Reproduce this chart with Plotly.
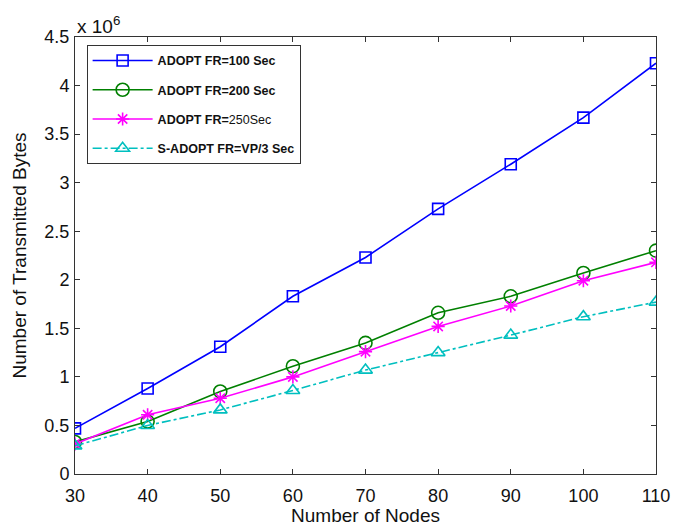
import plotly.graph_objects as go

nodes = [30, 40, 50, 60, 70, 80, 90, 100, 110]
fr100 = [0.47, 0.88, 1.31, 1.83, 2.23, 2.73, 3.19, 3.67, 4.23]
fr200 = [0.33, 0.54, 0.85, 1.11, 1.35, 1.66, 1.83, 2.07, 2.30]
fr250 = [0.31, 0.61, 0.78, 1.00, 1.26, 1.52, 1.73, 1.99, 2.18]
sadopt = [0.29, 0.50, 0.66, 0.86, 1.07, 1.25, 1.43, 1.62, 1.77]

legend_labels = ["<b>ADOPT FR=100 Sec</b>", "<b>ADOPT FR=200 Sec</b>",
                 "<b>ADOPT FR=</b>250Sec", "<b>S-ADOPT FR=VP/3 Sec</b>"]
series = [fr100, fr200, fr250, sadopt]
colors = ["#0000FF", "#008000", "#FF00FF", "#00BFBF"]
symbols = ["square-open", "circle-open", "asterisk-open", "triangle-up-open"]
dashes = ["solid", "solid", "solid", "dashdot"]
sizes = [11, 13, 11, 12]

FONT = "Liberation Sans, Arial"

fig = go.Figure()
for i, (lab, ys, c, s, d, sz) in enumerate(zip(legend_labels, series, colors, symbols, dashes, sizes)):
    fig.add_trace(go.Scatter(
        x=nodes, y=ys, name=lab, mode="lines+markers", legendgroup=f"g{i}",
        line=dict(color=c, width=1.6, dash=d),
        marker=dict(symbol=s, size=sz, color=c, line=dict(color=c, width=1.6)),
    ))

axis_common = dict(
    showline=True, linecolor="#333", linewidth=1, mirror="ticks",
    ticks="inside", ticklen=5, tickcolor="#333", showgrid=False, zeroline=False,
    automargin=False,
    tickfont=dict(family=FONT, size=18, color="#111"),
    title_font=dict(family=FONT, size=19, color="#111"),
)

fig.update_layout(
    width=675, height=526,
    margin=dict(l=75, r=19, t=37, b=52),
    paper_bgcolor="white", plot_bgcolor="white",
    xaxis=dict(range=[30, 110], dtick=10, tick0=30, ticklabelstandoff=5,
               title=dict(text="Number of Nodes", standoff=2), **axis_common),
    yaxis=dict(range=[0, 4.5], dtick=0.5, tick0=0, ticklabelstandoff=1,
               title=dict(text="Number of Transmitted Bytes", standoff=12), **axis_common),
    legend=dict(x=0.02, y=0.982, xanchor="left", yanchor="top",
                bgcolor="white", bordercolor="#333", borderwidth=1,
                font=dict(family=FONT, size=12.5, color="#111"),
                tracegroupgap=10, itemwidth=60),
    showlegend=True,
    annotations=[dict(text="x 10<sup>6</sup>", x=0, y=1.0, xref="paper", yref="paper",
                      xanchor="left", yanchor="bottom", showarrow=False, yshift=-2,
                      font=dict(family=FONT, size=19, color="#111"))],
)

fig.write_html("out.html")
